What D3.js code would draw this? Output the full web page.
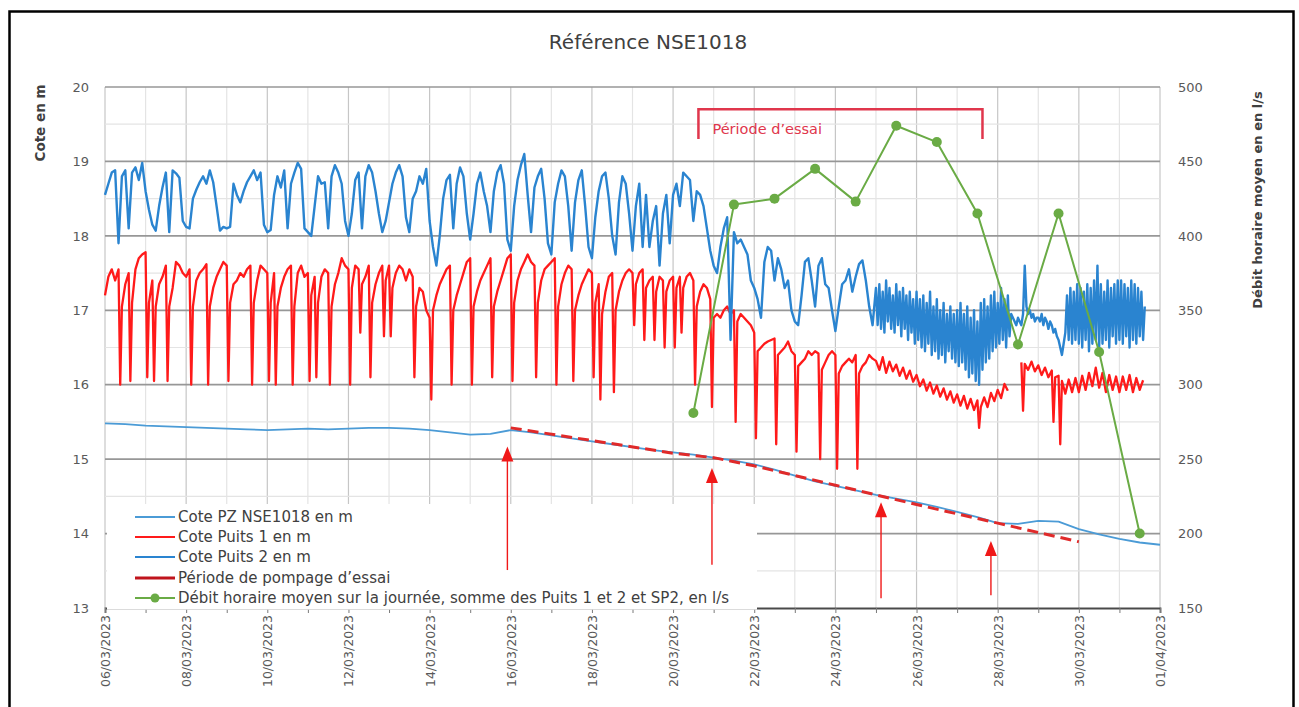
<!DOCTYPE html>
<html>
<head>
<meta charset="utf-8">
<script src="https://cdn.jsdelivr.net/npm/d3@7"></script>
<style>
  body { margin: 0; background: #fff; }
  svg { display: block; }
  text { font-family: "DejaVu Sans", "Liberation Sans", sans-serif; }
</style>
</head>
<body>
<svg id="chart" width="1299" height="707"></svg>
<script>
// ---------- data ----------
const chartTitle = "Référence NSE1018";
const leftTitle = "Cote en m";
const rightTitle = "Débit horaire moyen en en l/s";

const seriesStart = "06/03/2023";
const axisEnd = "01/04/2023";
const leftTicks = [13, 14, 15, 16, 17, 18, 19, 20];
const rightTicks = [150, 200, 250, 300, 350, 400, 450, 500];
const dateLabels = ["06/03/2023", "08/03/2023", "10/03/2023", "12/03/2023", "14/03/2023",
  "16/03/2023", "18/03/2023", "20/03/2023", "22/03/2023", "24/03/2023", "26/03/2023",
  "28/03/2023", "30/03/2023", "01/04/2023"];

// Cote Puits 2 (m): one row per day from 00:00.
// Rows of 12 readings are 2-hourly, longer rows are hourly.
const puits2Days = [
  [18.55,18.70,18.85,18.88,17.90,18.80,18.88,18.10,18.85,18.92,18.75,18.98],
  [18.60,18.35,18.15,18.07,18.40,18.65,18.85,18.05,18.88,18.84,18.78,18.20],
  [18.12,18.10,18.50,18.62,18.72,18.80,18.70,18.88,18.72,18.40,18.07,18.12],
  [18.10,18.12,18.70,18.55,18.45,18.60,18.72,18.80,18.88,18.75,18.85,18.15],
  [18.05,18.08,18.55,18.80,18.65,18.88,18.10,18.70,18.85,18.98,18.90,18.10],
  [18.05,18.00,18.40,18.80,18.70,18.72,18.10,18.80,18.95,18.85,18.70,18.20],
  [18.00,18.30,18.75,18.85,18.10,18.80,18.95,18.85,18.60,18.30,18.05,18.20],
  [18.45,18.70,18.85,18.95,18.80,18.25,18.05,18.50,18.60,18.80,18.70,18.90],
  [18.20,17.85,17.60,18.00,18.50,18.75,18.82,18.10,18.70,18.92,18.80,18.30],
  [17.95,18.30,18.70,18.85,18.60,18.40,18.05,18.60,18.85,18.95,18.70,17.95],
  [17.80,18.40,18.75,18.95,19.10,18.55,18.05,18.65,18.80,18.90,18.50,17.90],
  [17.75,18.45,18.70,18.88,18.80,18.40,17.80,18.45,18.75,18.88,18.40,17.85],
  [17.70,18.25,18.60,18.80,18.85,18.50,18.00,17.75,18.45,18.80,18.70,18.30],
  [17.80,18.40,18.70,17.85,18.55,17.85,18.20,18.40,17.60,18.30,18.55,17.90],
  [18.55,18.70,18.40,18.85,18.80,18.75,18.20,18.60,18.55,18.40,18.10,17.80],
  [17.60,17.50,17.85,18.10,18.25,16.60,18.05,17.90,17.95,17.85,17.75,17.40],
  [17.30,17.15,16.90,17.65,17.85,17.80,17.40,17.70,17.55,17.30,17.40,17.00],
  [16.85,16.80,17.20,17.65,17.70,17.40,17.05,17.60,17.70,17.35,17.30,17.00],
  [16.72,17.05,17.35,17.40,17.55,17.25,17.45,17.62,17.67,17.40,17.05,16.80],
  [17.30,16.80,17.35,16.75,17.25,16.70,17.40,16.85,17.30,16.75,17.20,16.70,
   17.35,16.80,17.25,16.65,17.30,16.75,17.20,16.60,17.25,16.70,17.15,16.55],
  [17.25,16.60,17.15,16.50,17.20,16.45,17.10,16.55,17.25,16.40,17.05,16.45,
   17.15,16.35,17.00,16.40,17.10,16.30,16.95,16.45,17.05,16.35,16.95,16.30],
  [17.00,16.25,17.10,16.30,16.95,16.20,17.05,16.10,16.90,16.15,17.00,16.05,
   16.85,16.00,17.10,16.20,17.15,16.30,17.05,16.35,17.20,16.45,17.25,16.50],
  [17.10,16.55,17.30,16.60,17.15,16.50,17.20,16.65,16.95,16.90,16.85,16.80,
   16.90,16.85,16.80,16.95,17.60,17.05,16.95,17.00,16.90,16.95,16.85,16.90],
  [16.90,16.85,16.95,16.80,16.90,16.85,16.75,16.85,16.80,16.70,16.75,16.65,
   16.60,16.50,16.40,16.55,16.70,17.20,16.60,17.30,16.55,17.25,16.60,17.35],
  [16.55,17.30,16.50,17.25,16.60,17.35,16.45,17.30,16.55,17.40,16.60,17.60,
   16.50,17.35,16.55,17.25,16.60,17.40,16.50,17.30,16.65,17.35,16.55,17.40],
  [16.60,17.40,16.55,17.35,16.65,17.30,16.50,17.40,16.60,17.35,16.55,17.30,
   16.65,17.25,16.60,17.05]
];

// Cote Puits 1 (m): 2-hourly levels from 00:00, null where the record is missing
const puits1Days = [
  [17.20,17.45,17.55,17.40,17.55,17.05,17.35,17.50,17.10,17.55,17.70,17.75],
  [17.78,17.10,17.40,17.05,17.35,17.45,17.60,17.05,17.30,17.65,17.60,17.50],
  [17.45,17.55,17.05,17.40,17.50,17.55,17.62,17.05,17.30,17.45,17.55,17.65],
  [17.60,17.10,17.35,17.40,17.50,17.45,17.55,17.60,17.10,17.40,17.60,17.55],
  [17.50,17.10,17.50,17.05,17.30,17.45,17.55,17.60,17.05,17.50,17.60,17.45],
  [17.50,17.20,17.45,17.10,17.45,17.55,17.50,17.05,17.35,17.50,17.70,17.60],
  [17.55,17.30,17.60,17.55,17.35,17.45,17.60,17.10,17.35,17.50,17.60,17.40],
  [17.60,17.30,17.50,17.60,17.55,17.40,17.55,17.45,17.05,17.30,17.25,17.00],
  [16.90,17.00,17.20,17.35,17.45,17.55,17.60,17.00,17.20,17.35,17.50,17.65],
  [17.70,17.05,17.25,17.40,17.50,17.60,17.70,17.05,17.25,17.40,17.55,17.70],
  [17.75,17.10,17.40,17.55,17.65,17.75,17.65,17.60,17.10,17.40,17.55,17.60],
  [17.65,17.70,17.05,17.35,17.50,17.60,17.55,17.00,17.20,17.35,17.45,17.55],
  [17.50,17.10,17.35,16.95,17.25,17.45,17.50,17.00,17.25,17.40,17.50,17.55],
  [17.50,17.35,17.50,17.55,17.30,17.40,17.45,17.25,17.45,17.40,17.25,17.40],
  [17.45,17.30,17.45,17.30,17.45,17.50,17.40,17.05,17.25,17.35,17.30,17.15],
  [16.90,16.95,16.90,17.00,17.05,16.95,17.00,16.85,16.95,16.90,16.85,16.80],
  [16.70,16.45,16.50,16.55,16.58,16.60,16.62,16.40,16.45,16.50,16.58,16.45],
  [16.40,16.25,16.30,16.35,16.45,16.40,16.45,16.42,16.20,16.30,16.40,16.45],
  [16.40,16.15,16.25,16.30,16.35,16.30,16.40,16.15,16.25,16.30,16.40,16.35],
  [16.32,16.20,16.37,16.16,16.31,16.18,16.27,16.12,16.23,16.08,16.19,16.04],
  [16.13,15.98,16.07,15.92,16.03,15.88,15.99,15.84,15.95,15.80,15.91,15.76],
  [15.87,15.72,15.85,15.68,15.81,15.66,15.79,15.70,15.83,15.70,15.89,15.78],
  [15.93,15.82,16.01,15.92,null,null,null,16.30,16.28,16.20,16.31,16.18],
  [16.26,16.13,16.23,16.10,16.19,16.10,16.12,16.05,15.88,16.07,15.90,16.09],
  [15.90,16.12,15.93,16.16,15.98,16.23,15.96,16.16,15.90,16.13,15.93,16.11],
  [15.90,16.11,15.93,16.13,15.90,16.09,15.93,16.06]
];

// Cote Puits 1 (m): short drawdowns at pump start
const puits1Dips = [
  ["06/03/2023 09:00",16.00],["06/03/2023 15:00",16.05],
  ["07/03/2023 01:00",16.10],["07/03/2023 05:00",16.05],["07/03/2023 13:00",16.05],
  ["08/03/2023 03:00",16.00],["08/03/2023 13:00",16.00],
  ["09/03/2023 01:00",16.05],["09/03/2023 15:00",16.00],
  ["10/03/2023 01:00",16.05],["10/03/2023 05:00",16.00],["10/03/2023 15:00",16.00],
  ["11/03/2023 01:00",16.05],["11/03/2023 05:00",16.10],["11/03/2023 13:00",16.00],
  ["12/03/2023 01:00",16.00],["12/03/2023 07:00",16.70],["12/03/2023 13:00",16.10],["12/03/2023 21:00",16.65],
  ["13/03/2023 01:00",16.65],["13/03/2023 15:00",16.10],
  ["14/03/2023 01:00",15.80],["14/03/2023 13:00",16.00],
  ["15/03/2023 01:00",16.00],["15/03/2023 13:00",16.10],
  ["16/03/2023 01:00",16.05],["16/03/2023 15:00",16.10],
  ["17/03/2023 03:00",16.00],["17/03/2023 13:00",16.05],
  ["18/03/2023 01:00",16.10],["18/03/2023 05:00",15.80],["18/03/2023 13:00",15.90],
  ["19/03/2023 01:00",16.80],["19/03/2023 07:00",16.60],["19/03/2023 13:00",16.60],["19/03/2023 19:00",16.50],
  ["20/03/2023 01:00",16.50],["20/03/2023 05:00",16.70],["20/03/2023 13:00",16.00],["20/03/2023 23:00",15.70],
  ["21/03/2023 13:00",15.50],
  ["22/03/2023 01:00",15.28],["22/03/2023 13:00",15.20],
  ["23/03/2023 01:00",15.10],["23/03/2023 15:00",15.00],
  ["24/03/2023 01:00",14.87],["24/03/2023 13:00",14.87],
  ["27/03/2023 13:00",15.42],
  ["28/03/2023 15:00",15.65],
  ["29/03/2023 09:00",15.50],["29/03/2023 13:00",15.20]
];

// Cote PZ NSE1018 (m): readings every 12 hours from 06/03 00:00
const pzLevels = [
  15.48,15.47, 15.45,15.44, 15.43,15.42, 15.41,15.40, 15.39,15.40,
  15.41,15.40, 15.41,15.42, 15.42,15.41, 15.39,15.36, 15.33,15.34,
  15.39,15.36, 15.32,15.28, 15.24,15.20, 15.16,15.12, 15.09,15.06,
  15.02,14.98, 14.93,14.86, 14.78,14.70, 14.64,14.58, 14.52,14.47,
  14.42,14.36, 14.29,14.22, 14.14,14.13, 14.17,14.16, 14.06,13.99,
  13.93,13.88, 13.85
];

// Période de pompage d'essai (m)
const essaiDates = ["16/03/2023", "18/03/2023", "20/03/2023", "21/03/2023", "22/03/2023",
  "24/03/2023", "26/03/2023", "28/03/2023", "30/03/2023"];
const essaiLevels = [15.42, 15.25, 15.08, 15.02, 14.91, 14.65, 14.39, 14.14, 13.89];

// Débit horaire moyen sur la journée (l/s), plotted at midday
const debitDates = ["20/03/2023 12:00", "21/03/2023 12:00", "22/03/2023 12:00", "23/03/2023 12:00",
  "24/03/2023 12:00", "25/03/2023 12:00", "26/03/2023 12:00", "27/03/2023 12:00",
  "28/03/2023 12:00", "29/03/2023 12:00", "30/03/2023 12:00", "31/03/2023 12:00"];
const debitValues = [281, 421, 425, 445, 423, 474, 463, 415, 327, 415, 322, 200];

// arrows: date, tip level, tail level (m)
const arrowDates = ["15/03/2023 22:00", "20/03/2023 23:00", "25/03/2023 03:00", "27/03/2023 20:00"];
const arrowTips = [15.17, 14.88, 14.42, 13.90];
const arrowTails = [13.51, 13.58, 13.13, 13.17];

// trial period bracket
const periodLabel = "Période d’essai";
const periodDates = ["20/03/2023 15:00", "27/03/2023 15:00"];
const periodLevels = [19.70, 19.30];

const legendLabels = [
  "Cote PZ NSE1018 en m",
  "Cote Puits 1 en m",
  "Cote Puits 2 en m",
  "Période de pompage d’essai",
  "Débit horaire moyen sur la journée, somme des Puits 1 et 2 et SP2, en l/s"
];

// ---------- layout ----------
const X0 = 105, X1 = 1160, Y0 = 87, Y1 = 608;
const C = {
  pz: "#4b9bd6", p1: "#ff1a1a", p2: "#2a84d0", essai: "#e02a2a",
  debit: "#6aab45", bracket: "#e0364c", arrow: "#f01818", text: "#404040", tick: "#595959"
};

const parseDay = d3.timeParse("%d/%m/%Y");
const parseDT = d3.timeParse("%d/%m/%Y %H:%M");
const t0 = parseDay(seriesStart), t1 = parseDay(axisEnd);

const x = d3.scaleTime().domain([t0, t1]).range([X0, X1]);
const yL = d3.scaleLinear().domain([13, 20]).range([Y1, Y0]);
const yR = d3.scaleLinear().domain([150, 500]).range([Y1, Y0]);

const svg = d3.select("#chart");

// outer frame
svg.append("rect").attr("x", 9.5).attr("y", 11.5).attr("width", 1284).attr("height", 720)
  .attr("fill", "#fff").attr("stroke", "#000").attr("stroke-width", 2.5);

// title
svg.append("text").attr("x", 648).attr("y", 49).attr("text-anchor", "middle")
  .attr("font-size", 20).attr("fill", C.text).text(chartTitle);

// ---------- gridlines ----------
const grid = svg.append("g");
const days = d3.timeDay.range(t0, d3.timeDay.offset(t1, 1));
grid.selectAll("line.v").data(days).join("line")
  .attr("x1", d => x(d)).attr("x2", d => x(d)).attr("y1", Y0).attr("y2", Y1)
  .attr("stroke", (d, i) => i % 2 ? "#e4e4e4" : "#c6c6c6").attr("stroke-width", 1.2);
const halfLevels = leftTicks.slice(0, -1).map(v => v + 0.5);
grid.selectAll("line.hm").data(halfLevels).join("line")
  .attr("x1", X0).attr("x2", X1).attr("y1", d => yL(d)).attr("y2", d => yL(d))
  .attr("stroke", "#e4e4e4").attr("stroke-width", 1.2);
grid.selectAll("line.h").data(leftTicks.slice(1)).join("line")
  .attr("x1", X0).attr("x2", X1).attr("y1", d => yL(d)).attr("y2", d => yL(d))
  .attr("stroke", "#979797").attr("stroke-width", 1.7);

// ---------- axes ----------
const axL = svg.append("g").attr("transform", `translate(${X0},0)`)
  .call(d3.axisLeft(yL).tickValues(leftTicks).tickSize(0).tickPadding(16).tickFormat(d3.format("d")));
const axR = svg.append("g").attr("transform", `translate(${X1},0)`)
  .call(d3.axisRight(yR).tickValues(rightTicks).tickSize(0).tickPadding(18).tickFormat(d3.format("d")));
[axL, axR].forEach(a => {
  a.select(".domain").remove();
  a.selectAll("text").attr("font-size", 13).attr("fill", C.tick)
    .attr("font-family", '"DejaVu Sans", sans-serif');
});

const axB = svg.append("g").attr("transform", `translate(0,${Y1})`)
  .call(d3.axisBottom(x).tickValues(days).tickSize(5).tickFormat(""));
axB.select(".domain").attr("stroke", "#4a4a4a").attr("stroke-width", 1.8);
axB.selectAll(".tick line").attr("stroke", "#7a7a7a");

const axBL = svg.append("g").attr("transform", `translate(0,${Y1})`)
  .call(d3.axisBottom(x).tickValues(dateLabels.map(parseDay)).tickSize(0)
    .tickFormat(d3.timeFormat("%d/%m/%Y")));
axBL.select(".domain").remove();
axBL.selectAll("text")
  .attr("transform", "rotate(-90)").attr("text-anchor", "end")
  .attr("x", -7).attr("y", 0).attr("dy", "0.36em")
  .attr("font-size", 12.5).attr("fill", C.tick)
  .attr("font-family", '"DejaVu Sans", sans-serif');

// axis titles
svg.append("text").attr("transform", `translate(45,123) rotate(-90)`)
  .attr("text-anchor", "middle").attr("font-size", 13.5).attr("font-weight", "bold")
  .attr("fill", C.text).text(leftTitle);
svg.append("text").attr("transform", `translate(1262,200) rotate(-90)`)
  .attr("text-anchor", "middle").attr("font-size", 13).attr("font-weight", "bold")
  .attr("fill", C.text).text(rightTitle);

// ---------- legend background (hides the grid behind it) ----------
svg.append("rect").attr("x", 107).attr("y", 504).attr("width", 650).attr("height", 105.6)
  .attr("fill", "#fff");

// ---------- series ----------
// rows of 12 readings are 2-hourly, longer rows hourly
const dailyRows = rows => rows.flatMap((row, d) => {
  const step = row.length > 12 ? 1 : 2;
  return row.map((v, k) => ({ t: d3.timeHour.offset(t0, d * 24 + k * step), v }));
});
const p1Pts = dailyRows(puits1Days)
  .concat(puits1Dips.map(([d, v]) => ({ t: parseDT(d), v })))
  .sort((a, b) => a.t - b.t);
const p2Pts = dailyRows(puits2Days);
const pzPts = pzLevels.map((v, i) => ({ t: d3.timeHour.offset(t0, i * 12), v }));
const essaiPts = essaiDates.map((d, i) => ({ t: parseDay(d), v: essaiLevels[i] }));
const debitPts = debitDates.map((d, i) => ({ t: parseDT(d), v: debitValues[i] }));

const lineL = d3.line().defined(d => d.v != null).x(d => x(d.t)).y(d => yL(d.v));
const lineR = d3.line().x(d => x(d.t)).y(d => yR(d.v));

const series = svg.append("g").attr("fill", "none").attr("stroke-linejoin", "round");
series.append("path").datum(pzPts).attr("d", lineL)
  .attr("stroke", C.pz).attr("stroke-width", 1.8);
series.append("path").datum(p1Pts).attr("d", lineL)
  .attr("stroke", C.p1).attr("stroke-width", 2.3);
series.append("path").datum(p2Pts).attr("d", lineL)
  .attr("stroke", C.p2).attr("stroke-width", 2.4);
series.append("path").datum(essaiPts).attr("d", lineL)
  .attr("stroke", C.essai).attr("stroke-width", 3).attr("stroke-dasharray", "11 6");
series.append("path").datum(debitPts).attr("d", lineR)
  .attr("stroke", C.debit).attr("stroke-width", 2);
svg.append("g").selectAll("circle").data(debitPts).join("circle")
  .attr("cx", d => x(d.t)).attr("cy", d => yR(d.v)).attr("r", 5)
  .attr("fill", C.debit);

// ---------- trial period bracket ----------
const bx0 = x(parseDT(periodDates[0])), bx1 = x(parseDT(periodDates[1]));
const byTop = yL(periodLevels[0]), byBot = yL(periodLevels[1]);
svg.append("path")
  .attr("d", `M${bx0},${byBot}V${byTop}H${bx1}V${byBot}`)
  .attr("fill", "none").attr("stroke", C.bracket).attr("stroke-width", 2.5);
svg.append("text").attr("x", bx0 + 14).attr("y", byTop + 25)
  .attr("font-size", 14.5).attr("fill", C.bracket).text(periodLabel);

// ---------- arrows ----------
const arrows = svg.append("g");
arrowDates.forEach((d, i) => {
  const ax = x(parseDT(d)), yt = yL(arrowTips[i]), yb = yL(arrowTails[i]);
  arrows.append("line").attr("x1", ax).attr("x2", ax).attr("y1", yt + 12).attr("y2", yb)
    .attr("stroke", C.arrow).attr("stroke-width", 1.4);
  arrows.append("path").attr("d", `M${ax},${yt}L${ax - 6},${yt + 15}L${ax + 6},${yt + 15}Z`)
    .attr("fill", C.arrow);
});

// ---------- legend ----------
const legendColors = [C.pz, C.p1, C.p2, "#c0141c", C.debit];
const legendRows = [517, 537, 557, 578, 598];
const lg = svg.append("g");
legendLabels.forEach((label, i) => {
  const y = legendRows[i];
  lg.append("line").attr("x1", 135).attr("x2", 175).attr("y1", y).attr("y2", y)
    .attr("stroke", legendColors[i]).attr("stroke-width", i === 3 ? 3 : 2);
  if (i === 4) lg.append("circle").attr("cx", 155).attr("cy", y).attr("r", 4.5).attr("fill", C.debit);
  lg.append("text").attr("x", 178).attr("y", y).attr("dy", "0.36em")
    .attr("font-size", 15).attr("fill", C.text).text(label);
});
</script>
</body>
</html>
